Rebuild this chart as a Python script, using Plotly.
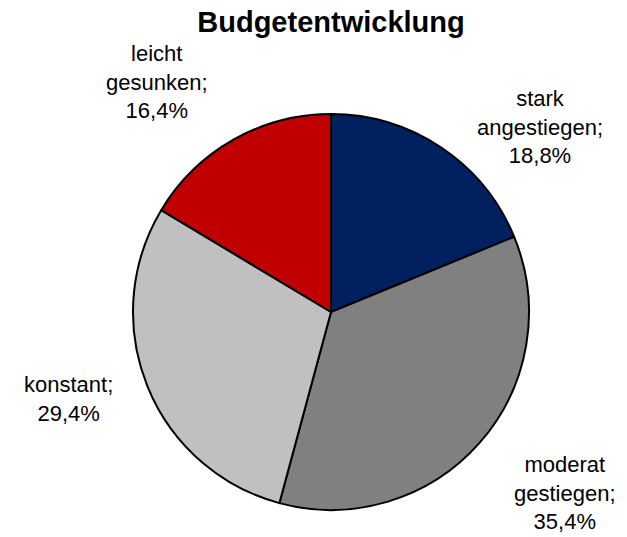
import plotly.graph_objects as go

categories = ["stark<br>angestiegen", "moderat<br>gestiegen", "konstant", "leicht<br>gesunken"]
values = [18.8, 35.4, 29.4, 16.4]
colors = ["#002060", "#808080", "#C0C0C0", "#C00000"]

W, H = 627, 537
# label block centers in pixels (x, y from top)
label_pos = [(540, 127), (565, 493), (68, 399), (157, 82)]

cx, cy, r = 331, 312, 198
fig = go.Figure(go.Pie(
    labels=categories,
    values=values,
    sort=False,
    direction="clockwise",
    rotation=0,
    marker=dict(colors=colors, line=dict(color="black", width=2)),
    textinfo="none",
    hoverinfo="label+percent",
    domain=dict(x=[(cx - r) / W, (cx + r) / W], y=[(H - cy - r) / H, (H - cy + r) / H]),
    showlegend=False,
))

for cat, v, (px, py) in zip(categories, values, label_pos):
    txt = f"{cat};<br>{v:.1f}%".replace(".", ",")
    fig.add_annotation(
        x=px / W, y=1 - py / H, xref="paper", yref="paper",
        text=txt, showarrow=False, xanchor="center", yanchor="middle",
        align="center",
        font=dict(family="Liberation Sans, Arial", size=22, color="black"),
    )

fig.update_layout(
    width=W, height=H,
    margin=dict(l=0, r=0, t=0, b=0),
    paper_bgcolor="white",
    plot_bgcolor="white",
    title=dict(text="<b>Budgetentwicklung</b>", x=331 / W, xanchor="center",
               y=1 - 22 / H, yanchor="middle", yref="container",
               font=dict(family="Liberation Sans, Arial", size=29, color="black")),
)

fig.write_html("out.html")
